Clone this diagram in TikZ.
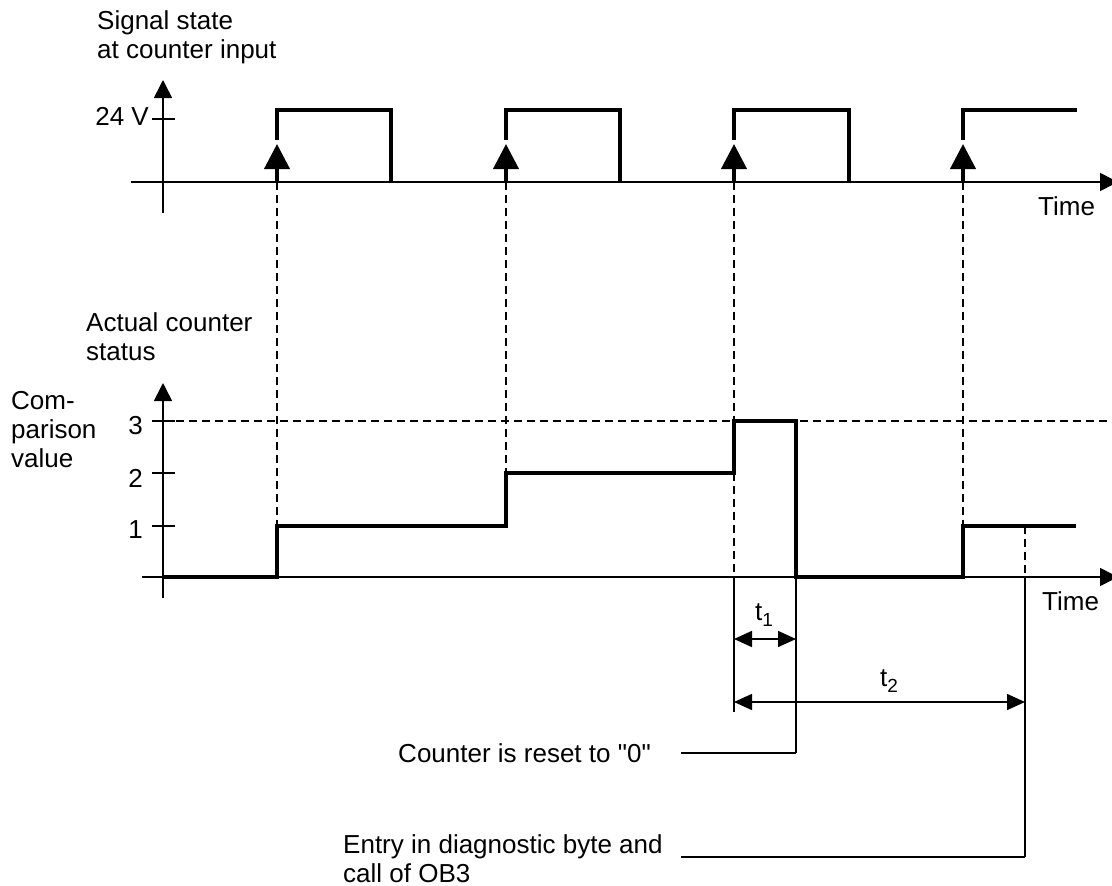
\documentclass[tikz,border=0pt]{standalone}
\usepackage{fontspec}
\setmainfont{Liberation Sans}[Ligatures=TeXOff]
\usetikzlibrary{arrows.meta}
\begin{document}
\begin{tikzpicture}[x=1pt,y=-1pt,
  axis/.style={line width=1.6pt},
  sig/.style={line width=4pt},
  guide/.style={line width=1.3pt, dash pattern=on 8pt off 5pt},
  thinline/.style={line width=1.5pt},
  lbl/.style={inner sep=0pt, font=\fontsize{26}{29}\selectfont, align=left},
  axarrow/.style={-{Triangle[length=18pt,width=18pt]}},
  edgearrow/.style={-{Triangle[length=25pt,width=25pt]}},
  dimarrow/.style={{Triangle[length=18pt,width=16pt]}-{Triangle[length=18pt,width=16pt]}},
]
\useasboundingbox (0,0) rectangle (1112,886);

% ---------- upper diagram: signal state ----------
\coordinate (uy0) at (163,213);
\coordinate (uy1) at (163,80);
\coordinate (ux0) at (131,182);
\coordinate (ux1) at (1118,182);
\draw[axis,axarrow] (uy0) -- (uy1);
\draw[axis,axarrow] (ux0) -- (ux1);
\draw[axis] (152,119) -- (175,119);

\node[lbl,anchor=north west] (sigtitle) at (97,10) {Signal state\\at counter input};
\node[lbl,anchor=base east] (v24) at (149,125) {24 V};
\node[lbl,anchor=base west] (time1) at (1038,215) {Time};

% rising edges (with trigger arrows) and pulses
\foreach \r/\n in {277/a,506/b,734/c,963/d}{
  \coordinate (base\n) at (\r,182);
  \coordinate (tip\n) at (\r,144);
  \draw[sig,edgearrow] (base\n) -- (tip\n);
}
\draw[sig] (277,140) -- (277,110) -- (391,110) -- (391,182);
\draw[sig] (506,140) -- (506,110) -- (620,110) -- (620,182);
\draw[sig] (734,140) -- (734,110) -- (849,110) -- (849,182);
\draw[sig] (963,140) -- (963,110) -- (1077,110);

% ---------- lower diagram: counter status ----------
\coordinate (ly0) at (163,598);
\coordinate (ly1) at (163,383);
\coordinate (lx0) at (142,577);
\coordinate (lx1) at (1118,577);

% comparison value line
\coordinate (cmp0) at (163,421);
\coordinate (cmp1) at (1112,421);
\draw[guide] (cmp0) -- (cmp1);

% guide lines from trigger edges
\coordinate (stepa) at (277,526);
\coordinate (stepb) at (506,473);
\coordinate (stepc) at (734,421);
\coordinate (stepc2) at (734,473);
\coordinate (axc) at (734,577);
\coordinate (stepd) at (963,526);
\draw[guide] (basea) -- (stepa);
\draw[guide] (baseb) -- (stepb);
\draw[guide] (basec) -- (stepc);
\draw[guide] (stepc2) -- (axc);
\draw[guide] (based) -- (stepd);
\coordinate (ent0) at (1025,526);
\coordinate (ent1) at (1025,577);
\draw[guide] (ent0) -- (ent1);

\draw[axis,axarrow] (ly0) -- (ly1);
\draw[axis,axarrow] (lx0) -- (lx1);
\foreach \y in {421,473,526}{ \draw[axis] (152,\y) -- (175,\y); }

\node[lbl,anchor=north west] (acttitle) at (86,312) {Actual counter\\status};
\node[lbl,anchor=north west] (cmptitle) at (11,391) {Com-\\parison\\value};
\node[lbl,anchor=base east] (n3) at (143,434) {3};
\node[lbl,anchor=base east] (n2) at (143,487) {2};
\node[lbl,anchor=base east] (n1) at (143,538) {1};
\node[lbl,anchor=base west] (time2) at (1042,610) {Time};

% counter status curve
\draw[sig] (163,577) -- (277,577) -- (stepa) -- (506,526) -- (506,473)
  -- (stepc2) -- (stepc) -- (796,421) -- (796,577) -- (963,577) -- (stepd) -- (1076,526);

% time markers
\coordinate (m1) at (734,712);
\coordinate (reset0) at (796,577);
\coordinate (reset1) at (796,753);
\coordinate (entb) at (1025,857);
\draw[thinline] (axc) -- (m1);
\draw[thinline] (reset0) -- (reset1);
\draw[thinline] (ent1) -- (entb);

% dimension arrows
\coordinate (t1a) at (734,639);
\coordinate (t1b) at (796,639);
\coordinate (t2a) at (734,702);
\coordinate (t2b) at (1025,702);
\draw[thinline,dimarrow] (t1a) -- (t1b);
\draw[thinline,dimarrow] (t2a) -- (t2b);
\node[lbl,anchor=base west] (t1) at (755,620) {t\raisebox{-6pt}{\fontsize{19}{19}\selectfont 1}};
\node[lbl,anchor=base west] (t2) at (880,686) {t\raisebox{-6pt}{\fontsize{19}{19}\selectfont 2}};

% callouts
\node[lbl,anchor=base east] (resetlbl) at (651,762) {Counter is reset to "0"};
\coordinate (resetlead) at (681,753);
\draw[thinline] (resetlead) -- (reset1);
\node[lbl,anchor=north west] (entrylbl) at (343,834) {Entry in diagnostic byte and\\call of OB3};
\coordinate (entrylead) at (681,857);
\draw[thinline] (entrylead) -- (entb);
\end{tikzpicture}
\end{document}
